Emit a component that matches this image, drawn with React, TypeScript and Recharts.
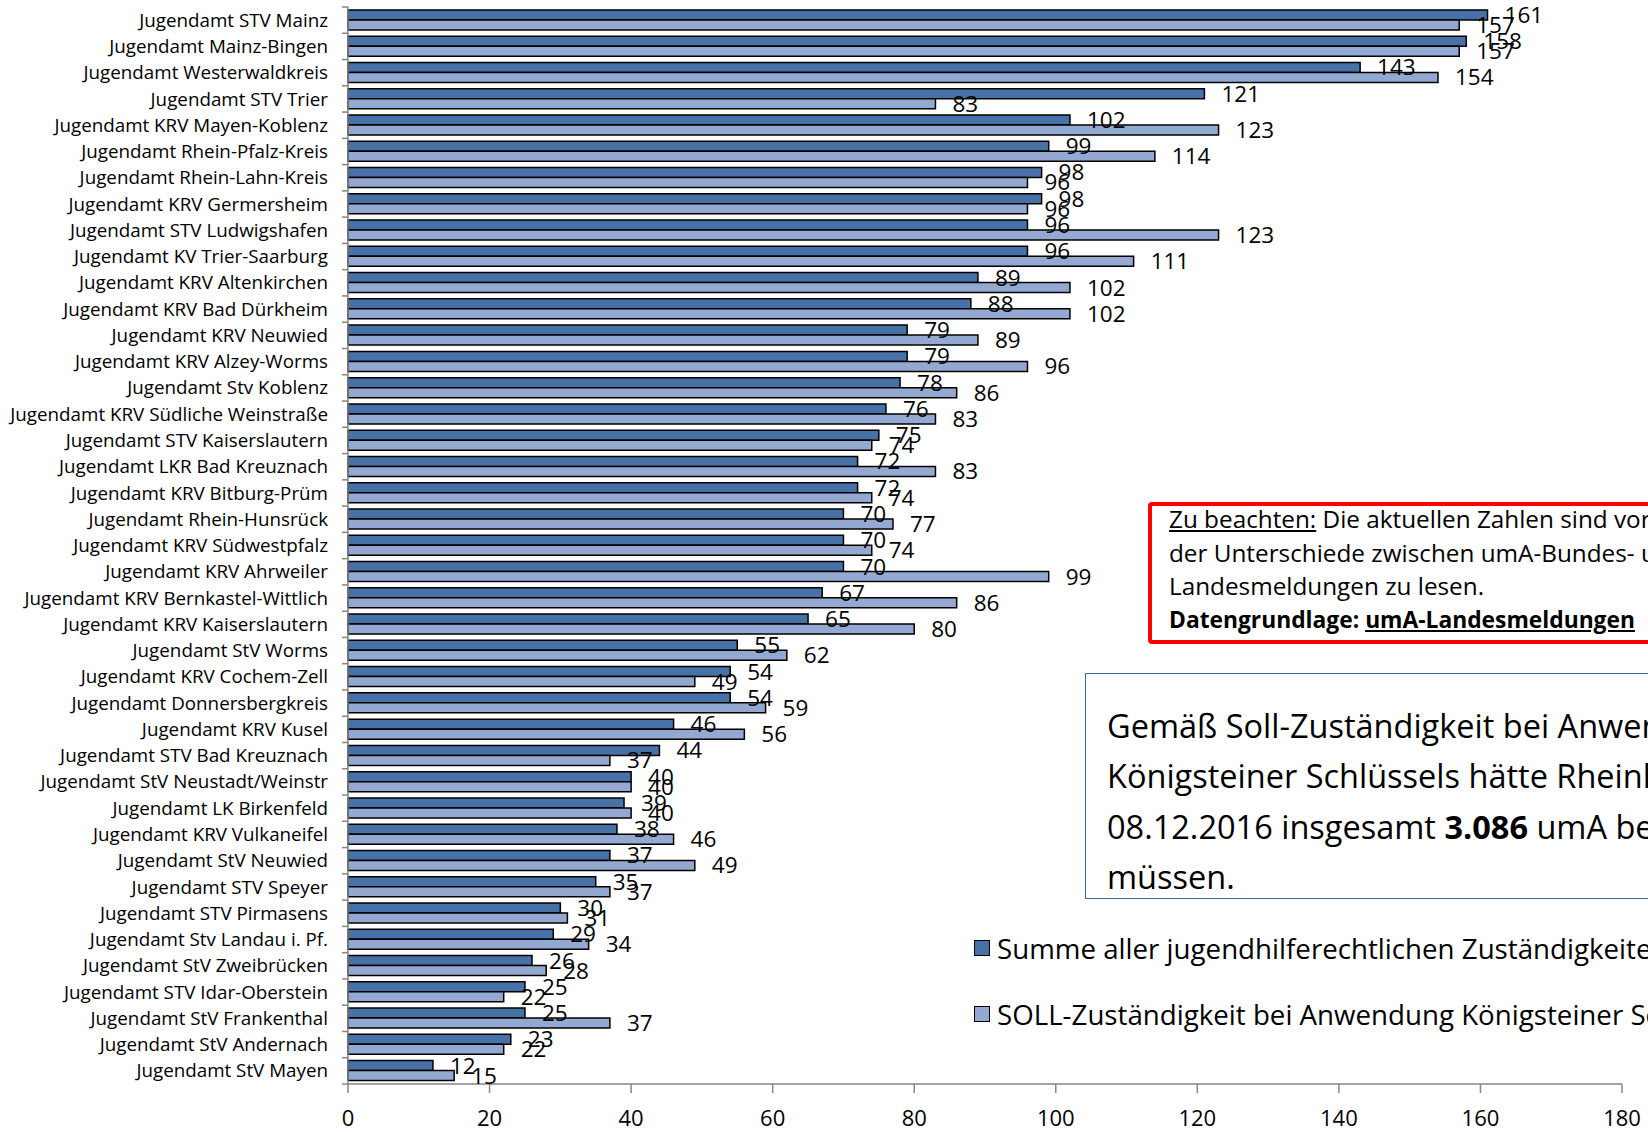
import React from 'react';
import { BarChart, Bar, XAxis, YAxis, LabelList, Legend } from 'recharts';

const categories = [
  'Jugendamt STV Mainz',
  'Jugendamt Mainz-Bingen',
  'Jugendamt Westerwaldkreis',
  'Jugendamt STV Trier',
  'Jugendamt KRV Mayen-Koblenz',
  'Jugendamt Rhein-Pfalz-Kreis',
  'Jugendamt Rhein-Lahn-Kreis',
  'Jugendamt KRV Germersheim',
  'Jugendamt STV Ludwigshafen',
  'Jugendamt KV Trier-Saarburg',
  'Jugendamt KRV Altenkirchen',
  'Jugendamt KRV Bad Dürkheim',
  'Jugendamt KRV Neuwied',
  'Jugendamt KRV Alzey-Worms',
  'Jugendamt Stv Koblenz',
  'Jugendamt KRV Südliche Weinstraße',
  'Jugendamt STV Kaiserslautern',
  'Jugendamt LKR Bad Kreuznach',
  'Jugendamt KRV Bitburg-Prüm',
  'Jugendamt Rhein-Hunsrück',
  'Jugendamt KRV Südwestpfalz',
  'Jugendamt KRV Ahrweiler',
  'Jugendamt KRV Bernkastel-Wittlich',
  'Jugendamt KRV Kaiserslautern',
  'Jugendamt StV Worms',
  'Jugendamt KRV Cochem-Zell',
  'Jugendamt Donnersbergkreis',
  'Jugendamt KRV Kusel',
  'Jugendamt STV Bad Kreuznach',
  'Jugendamt StV Neustadt/Weinstr',
  'Jugendamt LK Birkenfeld',
  'Jugendamt KRV Vulkaneifel',
  'Jugendamt StV Neuwied',
  'Jugendamt STV Speyer',
  'Jugendamt STV Pirmasens',
  'Jugendamt Stv Landau i. Pf.',
  'Jugendamt StV Zweibrücken',
  'Jugendamt STV Idar-Oberstein',
  'Jugendamt StV Frankenthal',
  'Jugendamt StV Andernach',
  'Jugendamt StV Mayen',
];

const summeValues = [
  161, 158, 143, 121, 102, 99, 98, 98, 96, 96, 89, 88, 79, 79, 78, 76, 75, 72, 72, 70, 70,
  70, 67, 65, 55, 54, 54, 46, 44, 40, 39, 38, 37, 35, 30, 29, 26, 25, 25, 23, 12,
];

const sollValues = [
  157, 157, 154, 83, 123, 114, 96, 96, 123, 111, 102, 102, 89, 96, 86, 83, 74, 83, 74, 77, 74,
  99, 86, 80, 62, 49, 59, 56, 37, 40, 40, 46, 49, 37, 31, 34, 28, 22, 37, 22, 15,
];

const xTicks = [0, 20, 40, 60, 80, 100, 120, 140, 160, 180];

const seriesNames = [
  'Summe aller jugendhilferechtlichen Zuständigkeiten',
  'SOLL-Zuständigkeit bei Anwendung Königsteiner Schlüssel',
];

const DARK = '#4771A7';
const LIGHT = '#94A9D2';
const AXIS = '#868686';
const FONT = '"Open Sans", sans-serif';

const W = 1648;
const H = 1132;
const M_TOP = 7;
const X_AXIS_H = 48;
const Y_AXIS_W = 348;
const BAND = (H - M_TOP - X_AXIS_H) / categories.length;

const data = categories.map((name, i) => ({
  name,
  summe: summeValues[i],
  soll: sollValues[i],
}));

const YTick = (props: any) => {
  const { x, y, payload } = props;
  const isLast = payload && payload.value === categories[categories.length - 1];
  return (
    <g>
      <line x1={x - 6} x2={x} y1={y - BAND / 2} y2={y - BAND / 2} stroke={AXIS} strokeWidth={1.5} />
      {isLast && (
        <line x1={x - 6} x2={x} y1={y + BAND / 2} y2={y + BAND / 2} stroke={AXIS} strokeWidth={1.5} />
      )}
      <text
        x={x - 20}
        y={y}
        dy="0.35em"
        textAnchor="end"
        fontSize={18.8}
        fontFamily={FONT}
        fill="#000"
      >
        {payload.value}
      </text>
    </g>
  );
};

const renderLegend = () => (
  <div style={{ fontFamily: FONT, fontSize: 27.7, color: '#000', whiteSpace: 'nowrap' }}>
    {seriesNames.map((n, i) => (
      <div key={n} style={{ height: 66, display: 'flex', alignItems: 'center' }}>
        <span
          style={{
            display: 'inline-block',
            width: 14,
            height: 14,
            background: i === 0 ? DARK : LIGHT,
            border: '1.5px solid #000',
            marginRight: 7,
          }}
        />
        <span>{n}</span>
      </div>
    ))}
  </div>
);

export default function App() {
  return (
    <div
      style={{
        position: 'absolute',
        left: 0,
        top: 0,
        width: W,
        height: H,
        overflow: 'hidden',
        background: '#fff',
      }}
    >
      <BarChart
        width={W}
        height={H}
        data={data}
        layout="vertical"
        margin={{ top: M_TOP, right: 26, bottom: 0, left: 0 }}
        barCategoryGap="11%"
        barGap={0}
      >
        <XAxis
          type="number"
          domain={[0, 180]}
          ticks={xTicks}
          interval={0}
          height={X_AXIS_H}
          axisLine={{ stroke: AXIS, strokeWidth: 1.5 }}
          tickLine={{ stroke: AXIS, strokeWidth: 1.5 }}
          tickSize={9}
          tickMargin={17}
          tick={{ fontSize: 22, fill: '#000', fontFamily: FONT }}
        />
        <YAxis
          type="category"
          dataKey="name"
          width={Y_AXIS_W}
          interval={0}
          tickSize={0}
          tickMargin={0}
          tickLine={false}
          axisLine={{ stroke: AXIS, strokeWidth: 1.5 }}
          tick={<YTick />}
        />
        <Legend
          layout="vertical"
          align="center"
          verticalAlign="middle"
          wrapperStyle={{ position: 'absolute', left: 974, top: 915, width: 900 }}
          content={renderLegend}
        />
        <Bar
          dataKey="summe"
          name={seriesNames[0]}
          fill={DARK}
          stroke="#000"
          strokeWidth={1.5}
          isAnimationActive={false}
        >
          <LabelList
            dataKey="summe"
            position="right"
            offset={17}
            style={{ fontSize: 22.5, fill: '#000', fontFamily: FONT }}
          />
        </Bar>
        <Bar
          dataKey="soll"
          name={seriesNames[1]}
          fill={LIGHT}
          stroke="#000"
          strokeWidth={1.5}
          isAnimationActive={false}
        >
          <LabelList
            dataKey="soll"
            position="right"
            offset={17}
            style={{ fontSize: 22.5, fill: '#000', fontFamily: FONT }}
          />
        </Bar>
      </BarChart>

      <div
        style={{
          position: 'absolute',
          left: 1148,
          top: 502,
          width: 720,
          height: 134,
          border: '4px solid #FF0000',
          borderRadius: 4,
          background: '#fff',
          fontFamily: FONT,
          fontSize: 24.3,
          lineHeight: '33.5px',
          color: '#000',
          paddingLeft: 17,
          whiteSpace: 'nowrap',
        }}
      >
        <div style={{ marginTop: -4 }}>
          <div>
            <span style={{ textDecoration: 'underline' }}>Zu beachten:</span> Die aktuellen Zahlen sind vor dem Hintergrund
          </div>
          <div>der Unterschiede zwischen umA-Bundes- und</div>
          <div>Landesmeldungen zu lesen.</div>
          <div style={{ fontWeight: 700, fontSize: 22.8 }}>
            Datengrundlage: <span style={{ textDecoration: 'underline' }}>umA-Landesmeldungen</span>
          </div>
        </div>
      </div>

      <div
        style={{
          position: 'absolute',
          left: 1085,
          top: 673,
          width: 900,
          height: 226,
          border: '1.5px solid #41669B',
          background: '#fff',
          fontFamily: FONT,
          fontSize: 32.5,
          lineHeight: '50.3px',
          color: '#000',
          paddingLeft: 21,
          paddingTop: 27,
          boxSizing: 'border-box',
          whiteSpace: 'nowrap',
        }}
      >
        <div>Gemäß Soll-Zuständigkeit bei Anwendung des</div>
        <div>Königsteiner Schlüssels hätte Rheinland-Pfalz am</div>
        <div>
          08.12.2016 insgesamt <b>3.086</b> umA betreuen
        </div>
        <div>müssen.</div>
      </div>
    </div>
  );
}
